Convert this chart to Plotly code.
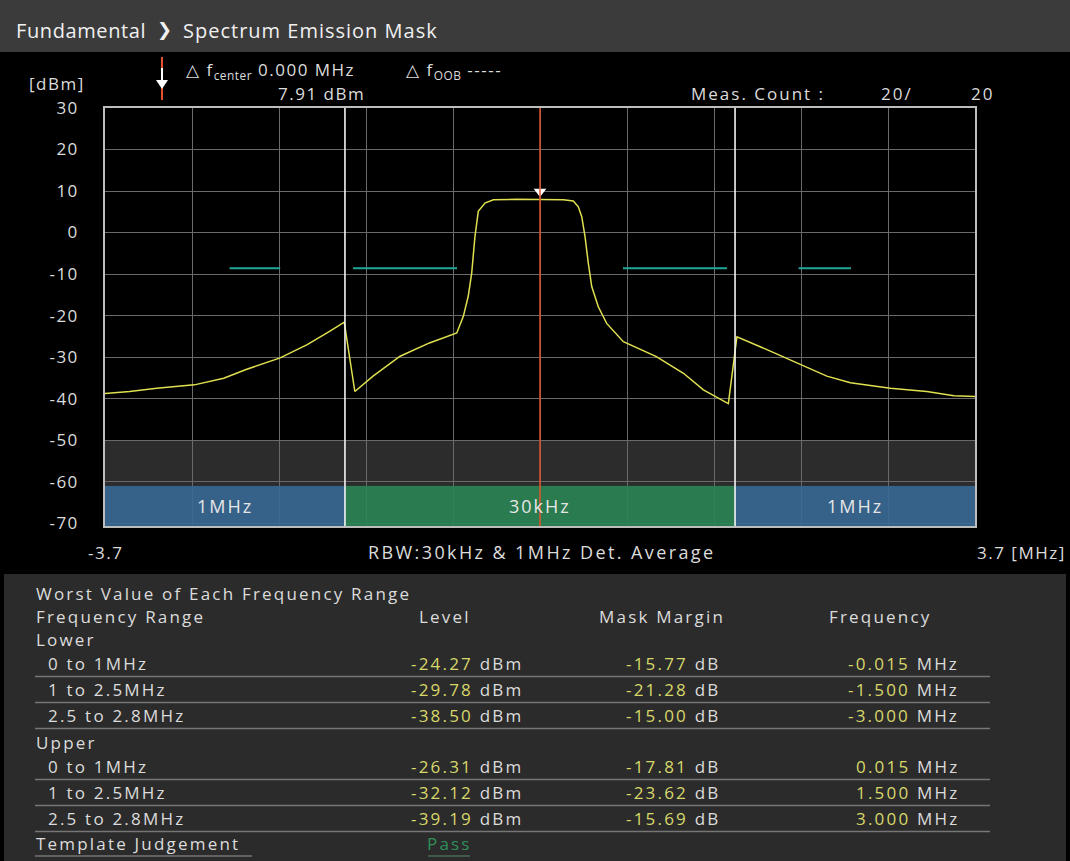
import plotly.graph_objects as go

# ---------------- data ----------------
freq_mhz = [
    -3.70, -3.49, -3.26, -2.94, -2.69, -2.50, -2.21, -1.98, -1.79, -1.665,
    -1.575, -1.42, -1.19, -0.94, -0.708,
    -0.652, -0.610, -0.581, -0.553, -0.525, -0.468, -0.397, -0.20, 0.00, 0.11, 0.20, 0.283,
    0.326, 0.355, 0.383, 0.411, 0.440, 0.496, 0.567, 0.709,
    0.99, 1.22, 1.39, 1.602,
    1.675, 1.93, 2.21, 2.44, 2.64, 2.98, 3.29, 3.52, 3.70]
level_dbm = [
    -38.8, -38.3, -37.5, -36.7, -35.1, -33.0, -30.2, -27.0, -23.8, -21.6,
    -38.3, -34.6, -29.8, -26.6, -24.2,
    -20.2, -15.3, -9.8, -0.9, 5.1, 7.1, 7.9, 8.0, 7.91, 8.0, 7.9, 7.6,
    6.2, 3.8, -1.0, -7.4, -13.0, -17.9, -21.9, -26.3,
    -29.9, -33.9, -37.9, -41.2,
    -25.1, -28.2, -31.8, -34.6, -36.2, -37.5, -38.3, -39.3, -39.5]

mask_level = -8.6
mask_start = [-2.64, -1.59, 0.706, 2.20]
mask_end = [-2.21, -0.706, 1.59, 2.645]

rbw_edges = [-3.7, -1.659, 1.659, 3.7]
rbw_labels = ["1MHz", "30kHz", "1MHz"]
range_bounds = [-1.659, 1.659]

marker_freq = 0.000
marker_level = 7.91
meas_count = 20
meas_total = 20

y_ticks = [30, 20, 10, 0, -10, -20, -30, -40, -50, -60, -70]
x_min, x_max = -3.7, 3.7
y_min, y_max = -70.7, 30

range_names = ["0 to 1MHz", "1 to 2.5MHz", "2.5 to 2.8MHz"]
lower_level = [-24.27, -29.78, -38.50]
lower_margin = [-15.77, -21.28, -15.00]
lower_freq = [-0.015, -1.500, -3.000]
upper_level = [-26.31, -32.12, -39.19]
upper_margin = [-17.81, -23.62, -15.69]
upper_freq = [0.015, 1.500, 3.000]
judgement = "Pass"

# ---------------- layout helpers ----------------
W, H = 1070, 861
L, R, T, B = 105, 975, 108, 526
FONT = "Open Sans"
TXT = "#dcdcdc"
YEL = "#d8d86a"


def px(x):
    return (x - L) / (R - L)


def py(y):
    return (B - y) / (B - T)


def sp(text, ls, color=None):
    st = f"letter-spacing:{ls}px"
    if color:
        st = f"color:{color};" + st
    return f'<span style="{st}">{text}</span>'


annotations = []
shapes = []


def ann(x, y, text, size=16, color=TXT, xanchor="left", family=FONT, ls=0):
    if ls:
        text = sp(text, ls)
    annotations.append(dict(
        xref="paper", yref="paper", x=px(x), y=py(y), text=text,
        showarrow=False, xanchor=xanchor, yanchor="middle", borderpad=0,
        font=dict(family=family, size=size, color=color)))


def hline(x0, x1, y, color, width=1):
    shapes.append(dict(type="line", xref="paper", yref="paper",
                       x0=px(x0), x1=px(x1), y0=py(y), y1=py(y),
                       line=dict(color=color, width=width)))


fig = go.Figure()

# spectrum trace
fig.add_trace(go.Scatter(x=freq_mhz, y=level_dbm, mode="lines",
                         line=dict(color="#e0e050", width=1.5),
                         hoverinfo="skip", showlegend=False))

# mask segments
mx, my = [], []
for a, b in zip(mask_start, mask_end):
    mx += [a, b, None]
    my += [mask_level, mask_level, None]
fig.add_trace(go.Scatter(x=mx, y=my, mode="lines",
                         line=dict(color="#22a89b", width=2),
                         hoverinfo="skip", showlegend=False))

# marker triangle
fig.add_trace(go.Scatter(x=[marker_freq], y=[marker_level + 2.0], mode="markers",
                         marker=dict(symbol="triangle-down", size=11, color="white"),
                         hoverinfo="skip", showlegend=False, cliponaxis=False))

# background panels
shapes.append(dict(type="rect", xref="paper", yref="paper", x0=px(0), x1=px(W),
                   y0=py(52), y1=py(0), fillcolor="#3b3b3b", line=dict(width=0), layer="below"))
shapes.append(dict(type="rect", xref="paper", yref="paper", x0=px(4), x1=px(W - 4),
                   y0=py(H), y1=py(574), fillcolor="#2b2b2b", line=dict(width=0), layer="below"))

# gray band -50..-61
shapes.append(dict(type="rect", xref="x", yref="y", x0=x_min, x1=x_max, y0=-61, y1=-50,
                   fillcolor="#2c2c2c", line=dict(width=0), layer="below"))
# RBW bands
band_colors = ["#3b6995", "#2e8556", "#3b6995"]
for i, lab in enumerate(rbw_labels):
    x0, x1 = rbw_edges[i], rbw_edges[i + 1]
    shapes.append(dict(type="rect", xref="x", yref="y", x0=x0, x1=x1, y0=y_min, y1=-61,
                       fillcolor=band_colors[i], opacity=0.92, line=dict(width=0), layer="between"))
    annotations.append(dict(xref="x", yref="y", x=(x0 + x1) / 2, y=-65.8, text=sp(lab, 2),
                            showarrow=False, font=dict(family=FONT, size=18, color="#e6e6e6")))

# range boundary lines
for xb in range_bounds:
    shapes.append(dict(type="line", xref="x", yref="y", x0=xb, x1=xb, y0=y_min, y1=y_max,
                       line=dict(color="#f4f4f4", width=1.6), layer="above"))
# marker line
shapes.append(dict(type="line", xref="x", yref="y", x0=marker_freq, x1=marker_freq,
                   y0=y_min, y1=y_max, line=dict(color="#e2522e", width=1.5), layer="above"))

# header
ann(15, 30, "Fundamental", size=20, color="#f0f0f0", ls=0.6)
ann(164, 30, "❯", size=18, color="#f0f0f0", xanchor="center", family="DejaVu Sans")
ann(182, 30, "Spectrum Emission Mask", size=20, color="#f0f0f0", ls=1)

# marker legend
shapes.append(dict(type="line", xref="paper", yref="paper", x0=px(162), x1=px(162),
                   y0=py(100), y1=py(57), line=dict(color="#e2522e", width=2)))
shapes.append(dict(type="line", xref="paper", yref="paper", x0=px(162), x1=px(162),
                   y0=py(84), y1=py(68), line=dict(color="white", width=2)))
shapes.append(dict(type="path", xref="paper", yref="paper",
                   path=f"M {px(156)},{py(80)} L {px(168)},{py(80)} L {px(162)},{py(89)} Z",
                   fillcolor="white", line=dict(width=0)))
ann(185, 71, sp("△ f", 1.5) + f'<sub>{sp("center", 0.5)}</sub>' + sp(f" {marker_freq:.3f} MHz", 1.5), size=17)
ann(405, 71, sp("△ f", 1.5) + f'<sub>{sp("OOB", 0.5)}</sub>' + sp(" -----", 1.5), size=17)
ann(321, 93, f"{marker_level:.2f} dBm", size=17, xanchor="center", ls=1.5)
ann(57, 83, "[dBm]", size=17, xanchor="center", ls=1.5)
ann(690, 93, "Meas. Count :", size=17, ls=2)
ann(880, 93, f"{meas_count}/", size=17, ls=2)
ann(970, 93, f"{meas_total}", size=17, ls=2)

# x labels
annotations.append(dict(xref="x", yref="paper", x=x_min, y=py(552), text=sp(f"{x_min:g}", 1.5),
                        showarrow=False, xanchor="center", yanchor="middle",
                        font=dict(family=FONT, size=17, color=TXT)))
annotations.append(dict(xref="x", yref="paper", x=x_max, y=py(552), text=sp(f"{x_max:g} [MHz]", 1.5),
                        showarrow=False, xanchor="left", yanchor="middle",
                        font=dict(family=FONT, size=17, color=TXT)))
ann(541, 552, "RBW:30kHz &amp; 1MHz Det. Average", size=18, xanchor="center", ls=2.4)

# table
TS, TL = 17, 2.2
ann(35, 593, "Worst Value of Each Frequency Range", size=TS, ls=TL)
ann(35, 616, "Frequency Range", size=TS, ls=TL)
ann(445, 616, "Level", size=TS, xanchor="center", ls=TL)
ann(662, 616, "Mask Margin", size=TS, xanchor="center", ls=TL)
ann(880, 616, "Frequency", size=TS, xanchor="center", ls=TL)


def block(title, y_title, ys, levels, margins, freqs):
    ann(35, y_title, title, size=TS, ls=TL)
    for name, yy, lv, mg, fr in zip(range_names, ys, levels, margins, freqs):
        ann(47, yy, name, size=TS, ls=TL)
        ann(524, yy, sp(f"{lv:.2f}", TL, YEL) + sp(" dBm", TL), size=TS, xanchor="right")
        ann(721, yy, sp(f"{mg:.2f}", TL, YEL) + sp(" dB", TL), size=TS, xanchor="right")
        ann(960, yy, sp(f"{fr:.3f}", TL, YEL) + sp(" MHz", TL), size=TS, xanchor="right")
        hline(35, 990, yy + 13.5, "#767676", 1.5)


block("Lower", 639, [663, 689, 715], lower_level, lower_margin, lower_freq)
block("Upper", 742, [766, 792, 818], upper_level, upper_margin, upper_freq)
ann(35, 843, "Template Judgement", size=TS, ls=TL)
hline(35, 252, 856, "#767676", 1.5)
ann(449, 843, judgement, size=TS, color="#2f8f5a", xanchor="center", ls=TL)
hline(428, 470, 856, "#4a6a55", 1.5)

fig.update_layout(
    width=W, height=H, autosize=False,
    margin=dict(l=L, r=W - R, t=T, b=H - B, pad=0),
    paper_bgcolor="#000000", plot_bgcolor="#000000",
    showlegend=False,
    shapes=shapes, annotations=annotations,
    xaxis=dict(range=[x_min, x_max], tickvals=[x_min + 0.74 * k for k in range(11)],
               showticklabels=False, showgrid=True, gridcolor="#6a6a6a", gridwidth=1,
               zeroline=False, showline=True, mirror=True, linecolor="#bdbdbd", linewidth=1.5,
               ticks=""),
    yaxis=dict(range=[y_min, y_max], tickvals=y_ticks, ticktext=[sp(str(v), 1.5) for v in y_ticks],
               showgrid=True, gridcolor="#6a6a6a", gridwidth=1, zeroline=False,
               showline=True, mirror=True, linecolor="#bdbdbd", linewidth=1.5,
               ticks="", ticklabelstandoff=21,
               tickfont=dict(family=FONT, size=17, color=TXT)),
)

fig.write_html("out.html", config={"displayModeBar": False},
               post_script="document.body.style.margin='0px';document.body.style.background='#000';")
